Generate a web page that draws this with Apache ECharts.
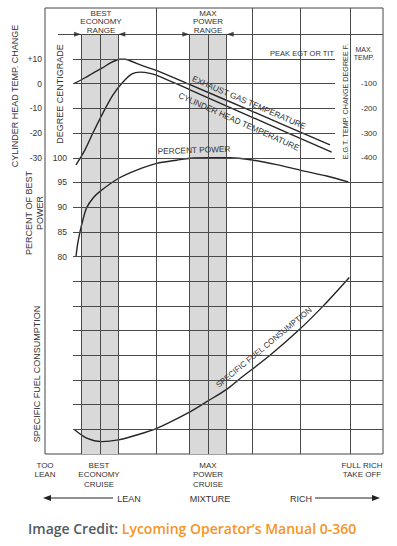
<!DOCTYPE html>
<html><head><meta charset="utf-8">
<script src="https://cdn.jsdelivr.net/npm/echarts@6/dist/echarts.min.js"></script>
<style>html,body{margin:0;padding:0;background:#fff}#c{width:397px;height:546px}</style>
</head><body><div id="c"></div>
<script>
// ---------- data (x = mixture position, 0 = "too lean" edge, 338 = "full rich" edge) ----------
// Exhaust gas temperature, °F change from peak
const egtPoints = [[29,-100],[40,-76],[48,-57],[57,-37],[65,-17],[70,-7],[75,-1],[80,-1],[85,-7],[98,-28],[115,-52],[145,-104],[205,-208],[285,-348]];
// Cylinder head temperature, °C change
const chtPoints = [[31,-32.9],[40,-26.8],[48,-19.9],[58,-11.8],[68,-4.5],[78,0.7],[87,4.0],[95,4.7],[105,4.2],[115,2.9],[145,-2.5],[205,-13.2],[286.7,-27.7]];
// Percent of best power
const powerPoints = [[31,80],[32.7,82.6],[35,85],[38,87.5],[41.7,89.9],[48.3,91.9],[55,93.2],[73.3,95.8],[91.7,97.5],[111.7,98.85],[131.7,99.5],[145,99.9],[165,100],[185,100],[208.3,99.5],[231.7,98.6],[255,97.5],[281.7,96.3],[303.3,95.1]];
// Specific fuel consumption (relative, in grid rows)
const sfcPoints = [[29,1.0],[41.7,0.64],[56.7,0.5],[73.3,0.57],[91.7,0.77],[111.7,1.04],[145,1.71],[161.7,2.12],[181.7,2.62],[193.3,3.0],[225,4.0],[253.3,5.0],[278.3,6.0],[304.3,7.15]];

const chtTicks = [-30,-20,-10,0,10];
const powerTicks = [80,85,90,95,100];
const egtTicks = [-100,-200,-300,-400];

const bandRanges = [[36,73.3],[144.3,181.7]];      // best economy range, max power range
const bandMidLines = [55,163.3];
const fullColumnLines = [111.7,207.3,255.7,305];
const rowLinesLong = [1,2,3,4,5,6,7,8,9,10,11];
const rowLinesShort = [12,13,14,15,16];
const rangeRow = 17;

// ---------- layout ----------
const X_MAX = 338;
const ROW_MAX = 446 / 24.6875;
const ROW_START = 28, SHORT_END = 290, RANGE_START = 13;
const INK = '#333';
const FONT = '"Liberation Sans", Arial, Helvetica, sans-serif';

const chart = echarts.init(document.getElementById('c'), null, {renderer:'svg', width:397, height:546});

const segs = [];
rowLinesLong.forEach(r => segs.push([{coord:[ROW_START, r]}, {coord:[X_MAX, r]}]));
rowLinesShort.forEach(r => segs.push([{coord:[ROW_START, r]}, {coord:[SHORT_END, r]}]));
segs.push([{coord:[RANGE_START, rangeRow]}, {coord:[X_MAX, rangeRow]}]);
bandRanges.forEach(b => b.forEach(x => segs.push([{coord:[x, 0]}, {coord:[x, rangeRow]}])));
bandMidLines.forEach(x => segs.push([{coord:[x, 0]}, {coord:[x, rangeRow]}]));
fullColumnLines.forEach(x => segs.push([{coord:[x, 0]}, {coord:[x, ROW_MAX]}]));

const arrowHeads = [];
bandRanges.forEach(b => {
  arrowHeads.push({value:[b[0], rangeRow], symbolRotate:-90, symbolOffset:[-3.5,0]});
  arrowHeads.push({value:[b[1], rangeRow], symbolRotate:90, symbolOffset:[3.5,0]});
});

function fmt(list, plus){
  return v => { const r = Math.round(v); if (Math.abs(v - r) > 1e-6) return ''; return list.indexOf(r) >= 0 ? ((plus && r > 0) ? '+' + r : String(r)) : ''; };
}

function T(text, x, y, rot, size, extra){
  return Object.assign({type:'text', x:x, y:y, z:100, rotation: rot*Math.PI/180, silent:true,
    style: Object.assign({text:text, fill:INK, fontSize:size, fontFamily:FONT, align:'center', verticalAlign:'middle', lineHeight: size + 1.3}, extra || {})});
}

const curveLine = {color:'#262626', width:1.4};

const option = {
  backgroundColor:'#fff',
  animation:false,
  grid:{left:45, right:14, top:8, bottom:92, show:true, borderColor:'#444', borderWidth:1, backgroundColor:'transparent'},
  xAxis:{type:'value', min:0, max:X_MAX, show:false},
  yAxis:[
    {type:'value', min:0, max:ROW_MAX, show:false},
    {type:'value', position:'left', min:-150, max:-150 + ROW_MAX*10, interval:10,
     axisLine:{show:false}, axisTick:{show:false}, splitLine:{show:false},
     axisLabel:{formatter:fmt(chtTicks, true), margin:3, color:INK, fontSize:8.5, fontFamily:FONT}},
    {type:'value', position:'left', min:40, max:40 + ROW_MAX*5, interval:5,
     axisLine:{show:false}, axisTick:{show:false}, splitLine:{show:false},
     axisLabel:{inside:true, align:'right', formatter:fmt(powerTicks, false), margin:22, color:INK, fontSize:8.5, fontFamily:FONT}},
    {type:'value', position:'right', min:-1600, max:-1600 + ROW_MAX*100, interval:100,
     axisLine:{show:false}, axisTick:{show:false}, splitLine:{show:false},
     axisLabel:{inside:true, align:'right', formatter:fmt(egtTicks, false), margin:6, color:INK, fontSize:8, fontFamily:FONT}}
  ],
  series:[
    {type:'line', yAxisIndex:0, data:[], silent:true,
     markArea:{silent:true, itemStyle:{color:'#d9d9d9'},
       data: bandRanges.map(b => [{coord:[b[0],0]},{coord:[b[1],rangeRow]}])}},
    {type:'line', yAxisIndex:0, data:[], silent:true,
     markLine:{silent:true, symbol:['none','none'], label:{show:false}, animation:false,
       lineStyle:{color:'#4a4a4a', width:1, type:'solid'}, data:segs}},
    {type:'scatter', yAxisIndex:0, data:arrowHeads, symbol:'triangle', symbolSize:[5,7], silent:true,
     itemStyle:{color:'#222'}, z:6},
    {name:'EGT', type:'line', yAxisIndex:3, data:egtPoints, smooth:0.3, showSymbol:false, lineStyle:curveLine, z:4},
    {name:'CHT', type:'line', yAxisIndex:1, data:chtPoints, smooth:0.3, showSymbol:false, lineStyle:curveLine, z:4},
    {name:'Power', type:'line', yAxisIndex:2, data:powerPoints, smooth:0.3, showSymbol:false, lineStyle:curveLine, z:4},
    {name:'SFC', type:'line', yAxisIndex:0, data:sfcPoints, smooth:0.3, showSymbol:false, lineStyle:curveLine, z:4}
  ],
  graphic:[
    T('CYLINDER HEAD TEMP. CHANGE', 15, 96, 90, 9),
    T('DEGREE CENTIGRADE', 60, 94, 90, 9),
    T('PERCENT OF BEST\nPOWER', 34.5, 213, 90, 9),
    T('SPECIFIC FUEL CONSUMPTION', 37, 374, 90, 9),
    T('E.G.T. TEMP. CHANGE DEGREE F.', 345, 101.5, 90, 7.2),
    T('MAX.\nTEMP.', 364, 53.5, 0, 7),
    T('PEAK EGT OR TIT', 334, 53.5, 0, 7.5, {align:'right'}),
    T('BEST\nECONOMY\nRANGE', 101, 21.5, 0, 8, {lineHeight:8.5}),
    T('MAX\nPOWER\nRANGE', 208, 21.5, 0, 8, {lineHeight:8.5}),
    T('EXHAUST GAS TEMPERATURE', 249, 102.3, -23.3, 8.3),
    T('CYLINDER HEAD TEMPERATURE', 239, 121.5, -24, 8.3),
    T('PERCENT POWER', 194, 150, 2, 8.3),
    T('SPECIFIC FUEL CONSUMPTION', 264, 347.5, 39.6, 8),
    T('TOO\nLEAN', 45, 470, 0, 8, {lineHeight:9.5}),
    T('BEST\nECONOMY\nCRUISE', 99, 474.5, 0, 8, {lineHeight:9.5}),
    T('MAX\nPOWER\nCRUISE', 208, 474.5, 0, 8, {lineHeight:9.5}),
    T('FULL RICH\nTAKE OFF', 362, 470, 0, 8, {lineHeight:9.5}),
    T('LEAN', 129, 498.5, 0, 9),
    T('MIXTURE', 210, 498.5, 0, 9),
    T('RICH', 301, 498.5, 0, 9),
    {type:'line', z:100, silent:true, shape:{x1:47, y1:498, x2:113, y2:498}, style:{stroke:'#222', lineWidth:1.2}},
    {type:'polygon', z:100, silent:true, shape:{points:[[43,498],[51,495],[51,501]]}, style:{fill:'#222'}},
    {type:'line', z:100, silent:true, shape:{x1:315, y1:498, x2:376, y2:498}, style:{stroke:'#222', lineWidth:1.2}},
    {type:'polygon', z:100, silent:true, shape:{points:[[380,498],[372,495],[372,501]]}, style:{fill:'#222'}},
    {type:'text', x:28, y:528, z:100, silent:true, style:{
      text:'{a|Image Credit:} {b|Lycoming Operator\u2019s Manual 0-360}',
      fontSize:14, fontFamily:'"Open Sans", sans-serif', fontWeight:600, verticalAlign:'middle', align:'left', fill:'#505a64',
      rich:{
        a:{fill:'#505a64', fontSize:14, fontWeight:600, fontFamily:'"Open Sans", sans-serif'},
        b:{fill:'#f7931e', fontSize:14, fontWeight:600, fontFamily:'"Open Sans", sans-serif'}
      }}}
  ]
};
chart.setOption(option);
</script>
</body></html>
